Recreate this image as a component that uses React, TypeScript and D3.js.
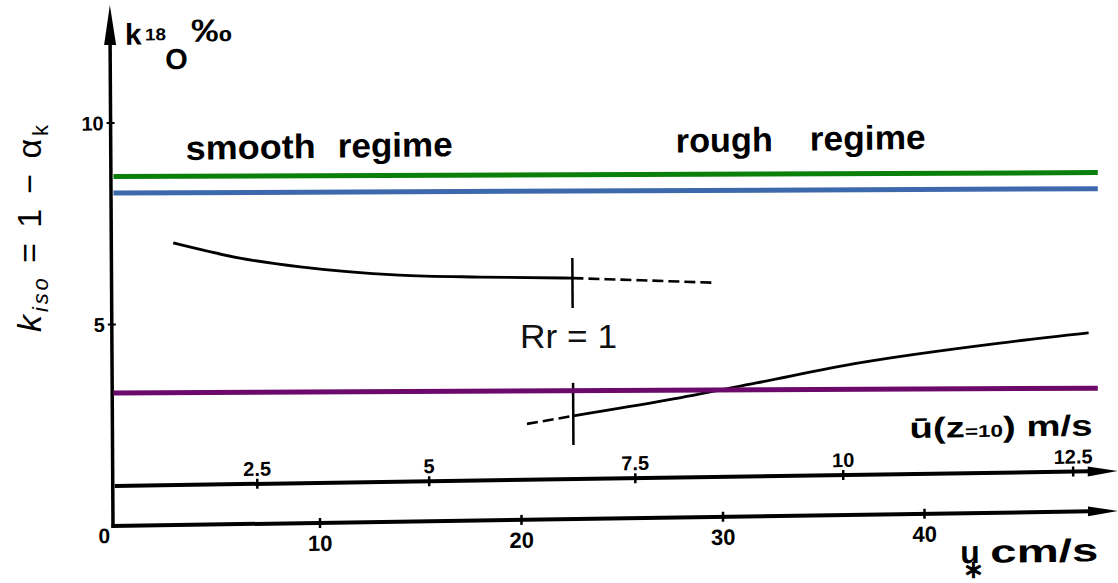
import React from "react";
import * as d3 from "d3";

// Friction velocity u* (cm/s) tick values on the lower axis
const USTAR_TICKS = [10, 20, 30, 40];
// Kinetic fractionation k (per mil) ticks on the vertical axis
const K_TICKS = [5, 10];
// Wind speed at 10 m (m/s) ticks, placed at their equivalent u* (cm/s)
const UBAR_LABELS = ["2.5", "5", "7.5", "10", "12.5"];
const UBAR_AT_USTAR = [6.9, 15.43, 25.66, 35.98, 47.39];

// Smooth-regime curve (u*, k)
const SMOOTH_U = [2.8, 6.1, 9.1, 14.0, 18.0, 22.6];
const SMOOTH_K = [7.0, 6.6, 6.36, 6.12, 6.04, 5.98];
// Smooth-regime extrapolation (dashed)
const SMOOTH_EXT_U = [22.6, 26.0, 29.7];
const SMOOTH_EXT_K = [5.98, 5.9, 5.81];
// Rough-regime curve (u*, k)
const ROUGH_U = [22.6, 27.3, 31.7, 36.8, 43.8, 48.2];
const ROUGH_K = [2.56, 2.92, 3.31, 3.77, 4.21, 4.43];
// Rough-regime extrapolation (dashed)
const ROUGH_EXT_U = [20.3, 22.6];
const ROUGH_EXT_K = [2.38, 2.56];
// Transition Rr = 1
const RR_USTAR = 22.6;
const RR_SMOOTH_BAR = [5.24, 6.48];
const RR_ROUGH_BAR = [1.84, 3.38];

// Reference levels of k_iso = 1 - alpha_k (start / end of line)
const LEVEL_NAMES = ["green", "blue", "purple"];
const LEVEL_COLORS = ["#0a800a", "#3d69ac", "#6c0a6c"];
const LEVEL_K_START = [8.67, 8.26, 3.3];
const LEVEL_K_END = [8.77, 8.37, 3.42];
const LEVEL_U_RANGE = [-0.25, 48.6];

const W = 1118;
const H = 583;
const OX = 113;
const OY = 526;

const x = d3.scaleLinear().domain([0, 50]).range([5.5, 5.5 + 1007.5]);
const y = d3.scaleLinear().domain([0, 10]).range([0, -403]);

const FONT = "'Liberation Sans', Arial, Helvetica, sans-serif";

function path(us: number[], ks: number[], curve = d3.curveMonotoneX) {
  const pts: [number, number][] = us.map((u, i) => [u, ks[i]]);
  return (
    d3
      .line<[number, number]>()
      .x((d) => x(d[0]))
      .y((d) => y(d[1]))
      .curve(curve)(pts) || ""
  );
}

export default function App() {
  const upperOffset = -40;
  const axisEnd = W - OX;
  const arrowLen = 30;
  return (
    <svg
      width={W}
      height={H}
      style={{ position: "absolute", left: 0, top: 0, background: "#fff" }}
      fontFamily={FONT}
    >
      {/* Scanned figure frame, slightly skewed */}
      <g transform={`translate(${OX},${OY}) matrix(1,-0.015,0.006,1,0,0)`}>
        {/* vertical axis */}
        <line x1={0} y1={2} x2={0} y2={-490} stroke="#000" strokeWidth={3.5} />
        <path d={`M0,-521 L-6,-481 L6,-481 Z`} fill="#000" />
        {K_TICKS.map((k) => (
          <g key={k}>
            <line x1={-4} x2={4} y1={y(k)} y2={y(k)} stroke="#000" strokeWidth={2} />
            <text
              x={-7}
              y={y(k)}
              dy="0.36em"
              textAnchor="end"
              fontSize={20}
              fontWeight="bold"
            >
              {k}
            </text>
          </g>
        ))}
        <text x={-3} y={17} textAnchor="end" fontSize={21} fontWeight="bold">
          0
        </text>

        {/* lower axis: u* */}
        <line x1={-1.5} y1={0} x2={axisEnd - arrowLen + 2} y2={0} stroke="#000" strokeWidth={4} />
        <path
          d={`M${axisEnd},0 L${axisEnd - arrowLen},-5 L${axisEnd - arrowLen},5 Z`}
          fill="#000"
        />
        {USTAR_TICKS.map((u) => (
          <g key={u}>
            <line x1={x(u)} x2={x(u)} y1={-5} y2={5} stroke="#000" strokeWidth={2.5} />
            <text x={x(u)} y={28} textAnchor="middle" fontSize={22} fontWeight="bold">
              {u}
            </text>
          </g>
        ))}

        {/* upper axis: wind speed */}
        <line
          x1={2}
          y1={upperOffset}
          x2={axisEnd - arrowLen + 2}
          y2={upperOffset}
          stroke="#000"
          strokeWidth={4}
        />
        <path
          d={`M${axisEnd},${upperOffset} L${axisEnd - arrowLen},${upperOffset - 5} L${
            axisEnd - arrowLen
          },${upperOffset + 5} Z`}
          fill="#000"
        />
        {UBAR_LABELS.map((lab, i) => (
          <g key={lab}>
            <line
              x1={x(UBAR_AT_USTAR[i])}
              x2={x(UBAR_AT_USTAR[i])}
              y1={upperOffset - 5}
              y2={upperOffset + 5}
              stroke="#000"
              strokeWidth={2.5}
            />
            <text
              x={x(UBAR_AT_USTAR[i])}
              y={upperOffset - 8}
              textAnchor="middle"
              fontSize={20}
              fontWeight="bold"
            >
              {lab}
            </text>
          </g>
        ))}

        {/* curves */}
        <path d={path(SMOOTH_U, SMOOTH_K)} fill="none" stroke="#000" strokeWidth={2.8} />
        <path
          d={path(SMOOTH_EXT_U, SMOOTH_EXT_K)}
          fill="none"
          stroke="#000"
          strokeWidth={2.6}
          strokeDasharray="11 5"
        />
        <path d={path(ROUGH_U, ROUGH_K)} fill="none" stroke="#000" strokeWidth={2.8} />
        <path
          d={path(ROUGH_EXT_U, ROUGH_EXT_K)}
          fill="none"
          stroke="#000"
          strokeWidth={2.6}
          strokeDasharray="11 5"
        />
        <line
          x1={x(RR_USTAR)}
          x2={x(RR_USTAR)}
          y1={y(RR_SMOOTH_BAR[0])}
          y2={y(RR_SMOOTH_BAR[1])}
          stroke="#000"
          strokeWidth={2.5}
        />
        <line
          x1={x(RR_USTAR)}
          x2={x(RR_USTAR)}
          y1={y(RR_ROUGH_BAR[0])}
          y2={y(RR_ROUGH_BAR[1])}
          stroke="#000"
          strokeWidth={2.5}
        />

        {/* regime labels */}
        <g fontSize={34} fontWeight="bold">
          <text x={75} y={-365} textLength={130} lengthAdjust="spacingAndGlyphs">
            smooth
          </text>
          <text x={227} y={-365} textLength={115} lengthAdjust="spacingAndGlyphs">
            regime
          </text>
          <text x={565} y={-365} textLength={97} lengthAdjust="spacingAndGlyphs">
            rough
          </text>
          <text x={699} y={-365} textLength={116} lengthAdjust="spacingAndGlyphs">
            regime
          </text>
        </g>

        {/* axis titles */}
        <g fontWeight="bold">
          <text x={15} y={-481} fontSize={30}>
            k
          </text>
          <text x={35} y={-485} fontSize={17} textLength={21} lengthAdjust="spacingAndGlyphs">
            18
          </text>
          <text x={55} y={-456} fontSize={29}>
            O
          </text>
          <text x={81} y={-483} fontSize={32} textLength={41} lengthAdjust="spacingAndGlyphs">
            ‰
          </text>
        </g>
        <text
          x={797}
          y={-76}
          fontSize={29}
          fontWeight="bold"
          textLength={183}
          lengthAdjust="spacingAndGlyphs"
        >
          ū(z<tspan fontSize={17}>=10</tspan>) m/s
        </text>
        <text x={847} y={50} fontSize={32} fontWeight="bold">
          u
          <tspan dx={-17} dy={15} fontSize={25}>
            ∗
          </tspan>
          <tspan x={877} dy={-15} fontSize={32} textLength={108} lengthAdjust="spacingAndGlyphs">
            cm/s
          </tspan>
        </text>
      </g>

      {/* Reference levels */}
      <g transform={`translate(${OX},${OY})`}>
        {LEVEL_NAMES.map((name, i) => (
          <line
            key={name}
            x1={x(LEVEL_U_RANGE[0])}
            x2={x(LEVEL_U_RANGE[1])}
            y1={y(LEVEL_K_START[i])}
            y2={y(LEVEL_K_END[i])}
            stroke={LEVEL_COLORS[i]}
            strokeWidth={5}
          />
        ))}
      </g>

      <text x={520} y={348} fontSize={33} fill="#111" textLength={97} lengthAdjust="spacingAndGlyphs">
        Rr = 1
      </text>

      <text
        transform="translate(41,332) rotate(-90)"
        fontSize={34}
        textLength={207}
        lengthAdjust="spacing"
      >
        <tspan fontStyle="italic">k</tspan>
        <tspan fontStyle="italic" fontSize={22} dy={7}>
          iso
        </tspan>
        <tspan dy={-7}>{" = 1 − α"}</tspan>
        <tspan fontSize={22} dy={7}>
          k
        </tspan>
      </text>
    </svg>
  );
}
